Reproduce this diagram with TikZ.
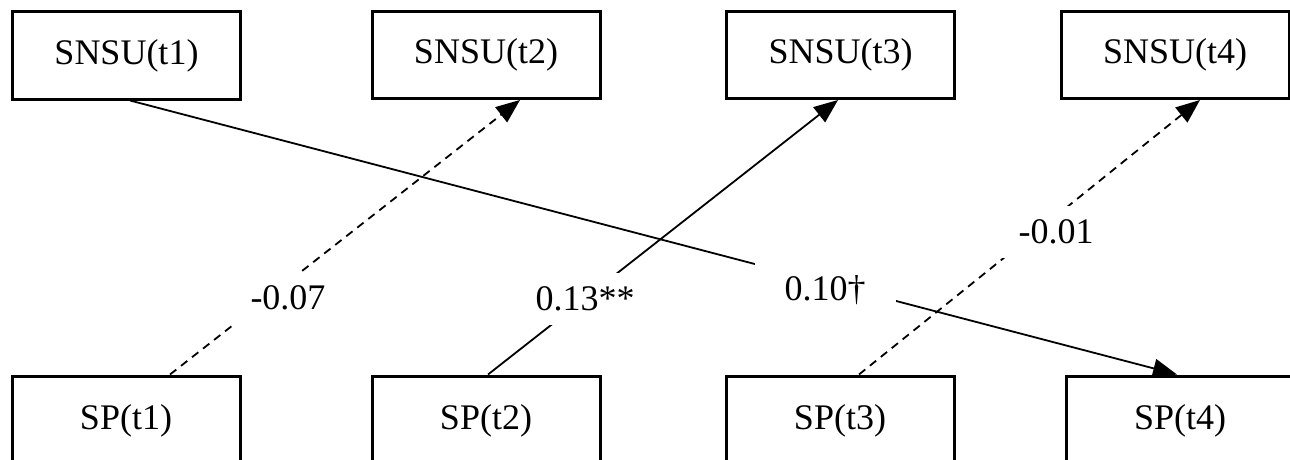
\documentclass[tikz,border=0pt]{standalone}
\usepackage{fontspec}
\setmainfont{Liberation Serif}
\usetikzlibrary{arrows.meta}
\begin{document}
\begin{tikzpicture}[x=1pt,y=-1pt,
  box/.style={draw, line width=3pt, minimum width=228pt, minimum height=87pt,
    inner sep=0pt, font=\fontsize{36}{40}\selectfont},
  spbox/.style={box, minimum height=90pt},
  link/.style={line width=1.8pt, -{Triangle[length=24pt,width=19pt]}},
  dashlink/.style={link, dash pattern=on 8pt off 6pt},
  coef/.style={fill=white, inner xsep=30pt, inner ysep=14pt,
    font=\fontsize{36}{40}\selectfont}]
\useasboundingbox (0,0) rectangle (1290,460);

% upper row
\node[box] (n1) at (126.5,55.5) {SNSU(t1)};
\node[box] (n2) at (486,55) {SNSU(t2)};
\node[box] (n3) at (840.5,55) {SNSU(t3)};
\node[box] (n4) at (1175,55) {SNSU(t4)};

% lower row
\node[spbox] (p1) at (126,421) {SP(t1)};
\node[spbox] (p2) at (486,421) {SP(t2)};
\node[spbox] (p3) at (840,421) {SP(t3)};
\node[spbox] (p4) at (1180,421) {SP(t4)};

% cross-lagged paths
\draw[link] ([xshift=3.5pt]n1.south) -- ([xshift=-3pt]p4.north);
\draw[dashlink] ([xshift=44pt]p1.north) -- ([xshift=34pt]n2.south);
\draw[link] ([xshift=2pt]p2.north) -- ([xshift=-2.5pt]n3.south);
\draw[dashlink] ([xshift=19pt]p3.north) -- ([xshift=25pt]n4.south);

% path coefficients
\node[coef] (c1) at (288,298) {-0.07};
\node[coef] (c2) at (585,299) {0.13**};
\node[coef] (c3) at (825,290) {0.10†};
\node[coef] (c4) at (1056,232) {-0.01};
\end{tikzpicture}
\end{document}
